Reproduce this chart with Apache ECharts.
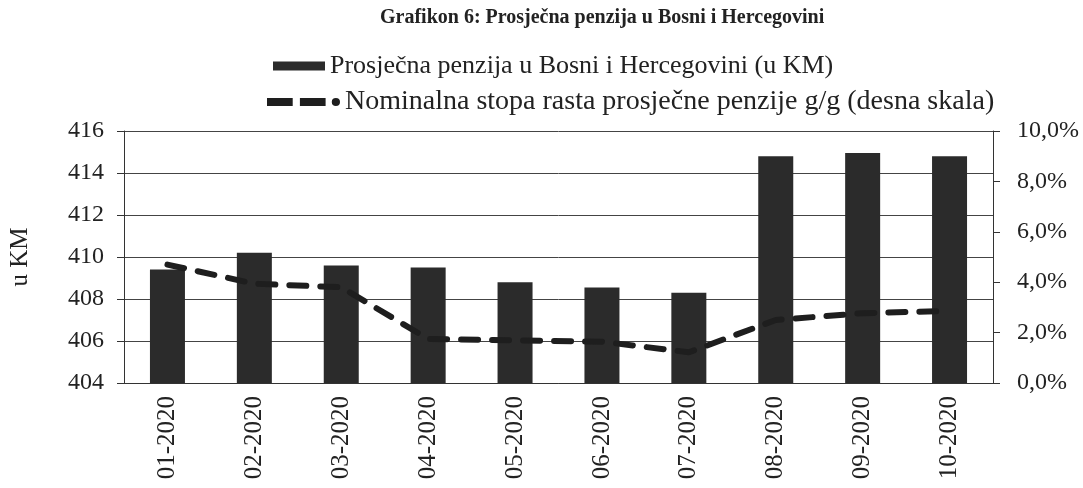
<!DOCTYPE html>
<html>
<head>
<meta charset="utf-8">
<script src="https://cdn.jsdelivr.net/npm/echarts@6/dist/echarts.min.js"></script>
<style>
    html, body { margin: 0; padding: 0; background: #fff; }
    #chart { width: 1083px; height: 488px; }
</style>
</head>
<body>
<div id="chart"></div>
<script>
// podaci procitani sa grafikona
const months = ['01-2020', '02-2020', '03-2020', '04-2020', '05-2020', '06-2020', '07-2020', '08-2020', '09-2020', '10-2020'];
const pension = [409.4, 410.2, 409.6, 409.5, 408.8, 408.55, 408.3, 414.8, 414.95, 414.8];
const growth = [4.7, 3.94, 3.8, 1.75, 1.69, 1.64, 1.22, 2.5, 2.77, 2.86];

const FONT = 'Liberation Serif';
const INK = '#222';
const BAR_NAME = 'Prosječna penzija u Bosni i Hercegovini (u KM)';
const LINE_NAME = 'Nominalna stopa rasta prosječne penzije g/g (desna skala)';

// ikona legende: dvije crtice i tacka
const dashIcon = 'path://M0,2h25v8h-25z M32,2h25v8h-25z M63,6a4,4 0 1,0 8,0a4,4 0 1,0 -8,0z';

const chart = echarts.init(document.getElementById('chart'));

const option = {
    animation: false,
    backgroundColor: '#fff',
    textStyle: { fontFamily: FONT, color: INK },
    title: {
        text: 'Grafikon 6: Prosječna penzija u Bosni i Hercegovini',
        left: 375,
        top: 3,
        textStyle: { fontFamily: FONT, fontSize: 20, fontWeight: 'bold', color: INK },
    },
    legend: [
        {
            left: 268,
            top: 48,
            itemWidth: 52,
            itemHeight: 9,
            itemGap: 5,
            textStyle: { fontFamily: FONT, fontSize: 26, color: INK },
            data: [{ name: BAR_NAME, icon: 'rect' }],
        },
        {
            left: 262,
            top: 83,
            itemWidth: 73,
            itemHeight: 9,
            textStyle: { fontFamily: FONT, fontSize: 28, color: INK },
            data: [{ name: LINE_NAME, icon: dashIcon, itemStyle: { color: '#1e1e1e' } }],
        },
    ],
    grid: {
        left: 124,
        right: 90,
        top: 131,
        bottom: 105,
    },
    xAxis: {
        type: 'category',
        data: months,
        axisLine: { lineStyle: { color: '#333', width: 1 } },
        axisTick: { show: false },
        axisLabel: {
            rotate: 90,
            margin: 13,
            fontFamily: FONT,
            fontSize: 25,
            color: INK,
        },
    },
    yAxis: [
        {
            type: 'value',
            name: 'u KM',
            nameLocation: 'middle',
            nameGap: 91,
            nameTextStyle: { fontFamily: FONT, fontSize: 25, color: INK },
            min: 404,
            max: 416,
            interval: 2,
            axisLine: { show: true, lineStyle: { color: '#333' } },
            axisTick: { show: true, length: 7, lineStyle: { color: '#333' } },
            axisLabel: { fontFamily: FONT, fontSize: 24, color: INK, margin: 20 },
            splitLine: { show: true, lineStyle: { color: '#444', width: 1 } },
        },
        {
            type: 'value',
            min: 0,
            max: 10,
            interval: 2,
            position: 'right',
            axisLine: { show: true, lineStyle: { color: '#333' } },
            axisTick: { show: true, length: 7, lineStyle: { color: '#333' } },
            axisLabel: {
                fontFamily: FONT,
                fontSize: 24,
                color: INK,
                margin: 24,
                formatter: v => v.toFixed(1).replace('.', ',') + '%',
            },
            splitLine: { show: false },
        },
    ],
    series: [
        {
            name: BAR_NAME,
            type: 'bar',
            yAxisIndex: 0,
            barWidth: 35,
            itemStyle: { color: '#2b2b2b' },
            data: pension,
        },
        {
            name: LINE_NAME,
            type: 'line',
            yAxisIndex: 1,
            symbol: 'none',
            lineStyle: { color: '#1e1e1e', width: 6, type: [17, 14], cap: 'round' },
            itemStyle: { color: '#1e1e1e' },
            data: growth,
        },
    ],
};

chart.setOption(option);
</script>
</body>
</html>
